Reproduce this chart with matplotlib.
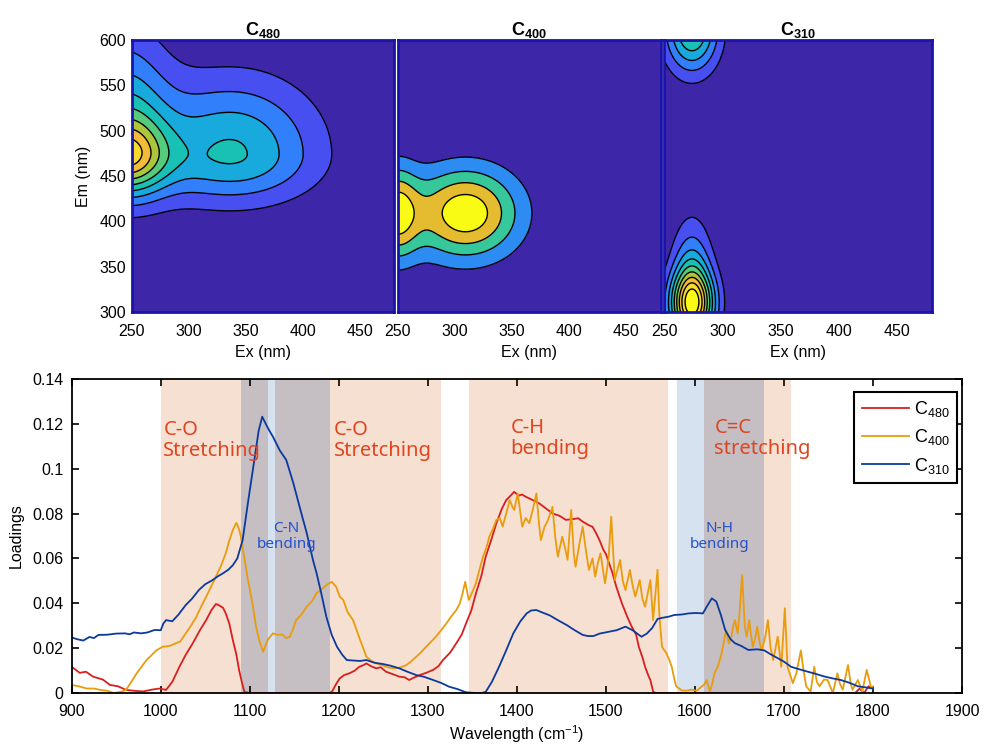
import matplotlib.pyplot as plt
import numpy as np
from matplotlib.colors import LinearSegmentedColormap

plt.rcParams['font.family'] = ['Liberation Sans', 'DejaVu Sans']
plt.rcParams['mathtext.fontset'] = 'custom'
plt.rcParams['mathtext.rm'] = 'Liberation Sans'
plt.rcParams['mathtext.it'] = 'Liberation Sans'
plt.rcParams['mathtext.bf'] = 'Liberation Sans:bold'

# MATLAB parula (R2014a), sampled anchors
PARULA = [
    (0.2422, 0.1504, 0.6603), (0.2706, 0.2147, 0.8364), (0.2813, 0.3006, 0.9414),
    (0.2699, 0.3892, 0.9906), (0.1963, 0.4847, 0.9892), (0.1687, 0.5703, 0.9359),
    (0.1248, 0.6459, 0.8883), (0.0297, 0.7082, 0.8163), (0.0433, 0.7411, 0.7394),
    (0.1717, 0.7670, 0.6554), (0.2470, 0.7918, 0.5567), (0.3909, 0.8029, 0.4354),
    (0.5616, 0.7942, 0.3045), (0.7242, 0.7698, 0.1910), (0.8634, 0.7406, 0.1596),
    (0.9728, 0.7298, 0.2394), (0.9952, 0.7893, 0.2028), (0.9676, 0.8639, 0.1643),
    (0.9628, 0.9373, 0.1265), (0.9769, 0.9839, 0.0805),
]
parula = LinearSegmentedColormap.from_list('parula', PARULA)

# --- EEM components: (amp, ex0, em0, sigma_ex, sigma_em_low, sigma_em_high)
EEM_TITLES = ['480', '400', '310']
C480_PEAKS = [(0.345, 245, 472, 24.6, 28, 27),
              (0.45, 243, 482, 27, 40, 80),
              (0.415, 337, 474, 52.4, 37, 57)]
C400_PEAKS = [(0.808, 248, 409, 14.2, 35, 35),
              (0.95, 309, 409, 33, 35, 35)]
C310_PEAKS = [(0.5, 274, 311, 14, 30, 24),
              (0.5, 274, 311, 12, 30, 52),
              (0.52, 274, 612, 16, 33, 33)]
EEM_LEVELS = [np.arange(0.1, 0.95, 0.1), np.arange(0.2, 0.85, 0.2),
              np.arange(0.1, 0.95, 0.1)]

# --- loadings spectra
RED_X = [900, 909, 916, 924, 935, 943, 952, 961, 970, 980, 990, 998, 1006,
         1013, 1021, 1028, 1036, 1044, 1051, 1057, 1062, 1066, 1070, 1073,
         1077, 1081, 1085, 1088, 1091, 1094, 1100, 1150, 1190, 1193, 1197,
         1201, 1206, 1212, 1218, 1223, 1228, 1231, 1236, 1242, 1247, 1253,
         1260, 1268, 1274, 1279, 1285, 1291, 1298, 1306, 1312, 1317, 1325,
         1332, 1338, 1343, 1349, 1354, 1360, 1365, 1371, 1377, 1383, 1388,
         1393, 1397, 1402, 1406, 1410, 1418, 1425, 1432, 1440, 1448, 1455,
         1462, 1469, 1474, 1480, 1485, 1489, 1493, 1497, 1500, 1507, 1512,
         1518, 1524, 1529, 1534, 1537, 1541, 1544, 1548, 1550, 1553, 1556,
         1780, 1785, 1790, 1795, 1800]
RED_Y = [0.0117, 0.009, 0.0095, 0.0073, 0.006, 0.0036, 0.003, 0.0014, 0.001,
         0.0007, 0.0015, 0.002, 0.0014, 0.005, 0.0117, 0.017, 0.0222, 0.028,
         0.0325, 0.037, 0.0397, 0.039, 0.038, 0.0355, 0.031, 0.0236, 0.017,
         0.0103, 0.005, 0.0005, 0, 0, 0, 0.001, 0.004, 0.0065, 0.008, 0.0088,
         0.010, 0.0117, 0.0125, 0.0132, 0.012, 0.011, 0.0115, 0.0095, 0.0085,
         0.0073, 0.007, 0.0058, 0.007, 0.008, 0.009, 0.0103, 0.012, 0.0147,
         0.018, 0.0222, 0.026, 0.0311, 0.037, 0.0444, 0.052, 0.0608, 0.068,
         0.0757, 0.082, 0.086, 0.088, 0.0897, 0.088, 0.0885, 0.0875, 0.086,
         0.0846, 0.0825, 0.0801, 0.079, 0.0772, 0.0775, 0.0779, 0.0764, 0.075,
         0.0741, 0.0713, 0.068, 0.064, 0.062, 0.054, 0.047, 0.040, 0.034,
         0.0296, 0.026, 0.0206, 0.016, 0.0117, 0.0075, 0.0058, 0.0007, 0,
         0, 0.002, 0, 0.003, 0.002]

BLUE_X = [900, 906, 913, 920, 925, 930, 940, 950, 960, 965, 970, 978, 985,
          993, 1000, 1003, 1006, 1013, 1020, 1028, 1035, 1043, 1050, 1058,
          1064, 1070, 1076, 1081, 1086, 1092, 1098, 1104, 1110, 1114, 1118,
          1122, 1126, 1134, 1141, 1149, 1156, 1164, 1171, 1175, 1180, 1186,
          1192, 1198, 1204, 1209, 1216, 1224, 1231, 1240, 1250, 1258, 1268,
          1277, 1287, 1296, 1306, 1315, 1324, 1333, 1343, 1354, 1360, 1365,
          1372, 1380, 1388, 1396, 1404, 1411, 1416, 1422, 1428, 1437, 1446,
          1456, 1465, 1474, 1480, 1486, 1493, 1503, 1512, 1522, 1530, 1540,
          1546, 1552, 1558, 1563, 1570, 1577, 1585, 1593, 1601, 1609, 1614,
          1619, 1624, 1629, 1634, 1640, 1645, 1652, 1660, 1670, 1678, 1684,
          1690, 1700, 1708, 1718, 1727, 1736, 1746, 1755, 1764, 1774, 1783,
          1792, 1800]
BLUE_Y = [0.0248, 0.024, 0.0234, 0.025, 0.0245, 0.0259, 0.026, 0.0265,
          0.0266, 0.0262, 0.027, 0.0266, 0.027, 0.0281, 0.028, 0.031, 0.0325,
          0.032, 0.035, 0.0392, 0.042, 0.046, 0.0485, 0.0503, 0.052, 0.0534,
          0.055, 0.057, 0.060, 0.0682, 0.085, 0.1009, 0.117, 0.1232, 0.120,
          0.117, 0.1143, 0.108, 0.1039, 0.0935, 0.083, 0.0713, 0.0593, 0.0535,
          0.045, 0.034, 0.026, 0.0206, 0.017, 0.0147, 0.0145, 0.0143, 0.0147,
          0.0135, 0.0129, 0.0122, 0.011, 0.0095, 0.008, 0.0072, 0.0058,
          0.0045, 0.0028, 0.0018, 0.0003, 0, 0, 0.0005, 0.005, 0.0117, 0.019,
          0.0266, 0.032, 0.0355, 0.0368, 0.037, 0.036, 0.0346, 0.0325, 0.0303,
          0.028, 0.0259, 0.0254, 0.0254, 0.0265, 0.0273, 0.028, 0.0296,
          0.028, 0.0251, 0.0265, 0.029, 0.033, 0.0335, 0.034, 0.0348, 0.035,
          0.0355, 0.0357, 0.0355, 0.039, 0.0422, 0.0408, 0.035, 0.0281, 0.024,
          0.0222, 0.021, 0.0192, 0.0195, 0.019, 0.0175, 0.0162, 0.014, 0.0117,
          0.0105, 0.0095, 0.0085, 0.0073, 0.0065, 0.0058, 0.0045, 0.003,
          0.0025, 0.002]

ORANGE_X = [900, 908, 917, 925, 932, 940, 947, 955, 961, 967, 973, 979, 984,
            990, 995, 1002, 1010, 1017, 1022, 1028, 1034, 1040, 1046, 1051,
            1056, 1062, 1068, 1073, 1077, 1081, 1085, 1088, 1090, 1094, 1098,
            1103, 1107, 1111, 1115, 1120, 1126, 1131, 1137, 1141, 1145, 1149,
            1152, 1158, 1164, 1170, 1175, 1180, 1186, 1192, 1197, 1201, 1205,
            1210, 1216, 1220, 1224, 1231, 1236, 1242, 1248, 1253, 1258, 1264,
            1270, 1276, 1281, 1287, 1292, 1298, 1304, 1309, 1315, 1321, 1326,
            1332, 1336, 1339, 1342, 1346, 1350, 1354, 1358, 1362, 1366, 1369,
            1373, 1377, 1381, 1384, 1388, 1392, 1395, 1397, 1401, 1404, 1406,
            1410, 1414, 1418, 1422, 1425, 1427, 1431, 1435, 1440, 1443, 1446,
            1451, 1454, 1457, 1461, 1464, 1466, 1470, 1474, 1478, 1481, 1485,
            1488, 1491, 1494, 1499, 1503, 1506, 1510, 1513, 1516, 1519, 1522,
            1527, 1530, 1533, 1538, 1541, 1544, 1550, 1553, 1558, 1560, 1563,
            1568, 1571, 1574, 1577, 1579, 1585, 1590, 1596, 1602, 1607, 1611,
            1613, 1617, 1620, 1622, 1626, 1630, 1633, 1635, 1638, 1641, 1643,
            1645, 1648, 1650, 1653, 1656, 1658, 1661, 1663, 1665, 1668, 1670,
            1673, 1675, 1679, 1682, 1685, 1688, 1693, 1697, 1701, 1704, 1707,
            1710, 1714, 1719, 1722, 1725, 1730, 1734, 1737, 1740, 1745, 1749,
            1755, 1760, 1763, 1766, 1772, 1775, 1777, 1783, 1788, 1793, 1798,
            1800]
ORANGE_Y = [0.0036, 0.003, 0.002, 0.002, 0.0014, 0.001, 0, 0.0005, 0.0014,
            0.005, 0.0088, 0.012, 0.0147, 0.017, 0.019, 0.0206, 0.021, 0.0222,
            0.023, 0.0266, 0.030, 0.034, 0.039, 0.0429, 0.047, 0.0519, 0.057,
            0.0623, 0.068, 0.0727, 0.0759, 0.073, 0.0697, 0.060, 0.0504, 0.040,
            0.0296, 0.023, 0.0184, 0.0236, 0.0266, 0.026, 0.026, 0.0245,
            0.0251, 0.029, 0.0325, 0.035, 0.0385, 0.041, 0.0445, 0.046, 0.0481,
            0.0496, 0.0474, 0.043, 0.0415, 0.036, 0.0325, 0.028, 0.0236,
            0.0162, 0.0145, 0.0132, 0.0125, 0.0117, 0.0112, 0.011, 0.0115,
            0.0125, 0.014, 0.0162, 0.018, 0.0206, 0.023, 0.0251, 0.028, 0.0311,
            0.034, 0.037, 0.040, 0.0444, 0.0496, 0.0415, 0.045, 0.0489, 0.055,
            0.0608, 0.065, 0.0697, 0.073, 0.0772, 0.078, 0.0742, 0.080, 0.086,
            0.083, 0.0816, 0.089, 0.080, 0.0742, 0.078, 0.0757, 0.082, 0.089,
            0.075, 0.0682, 0.074, 0.0772, 0.083, 0.070, 0.0608, 0.0697, 0.065,
            0.0594, 0.0816, 0.062, 0.0563, 0.066, 0.0742, 0.0623, 0.0549, 0.060,
            0.0519, 0.058, 0.0623, 0.0489, 0.060, 0.0786, 0.0504, 0.055, 0.0593,
            0.050, 0.0459, 0.0549, 0.048, 0.043, 0.0504, 0.042, 0.0385, 0.0504,
            0.0325, 0.0549, 0.035, 0.0206, 0.0177, 0.015, 0.0117, 0.006, 0.003,
            0.0012, 0.001, 0.0015, 0.001, 0.0027, 0.004, 0.0058, 0.0007, 0.005,
            0.0089, 0.012, 0.0177, 0.024, 0.0281, 0.022, 0.0251, 0.030, 0.0325,
            0.0266, 0.035, 0.0526, 0.030, 0.0251, 0.0325, 0.026, 0.0206, 0.025,
            0.0296, 0.022, 0.0192, 0.025, 0.0325, 0.020, 0.0147, 0.0251, 0.0117,
            0.0378, 0.0117, 0.008, 0.0044, 0.0089, 0.019, 0.010, 0.003, 0.0007,
            0.0117, 0.005, 0.003, 0.006, 0.0058, 0, 0.0088, 0.004, 0.0015,
            0.0125, 0.004, 0.0015, 0.0058, 0.0007, 0.0103, 0.0022, 0.003]

ORANGE_BANDS = [(1000, 1120), (1128, 1315), (1346, 1570), (1610, 1708)]
BLUE_BANDS = [(1090, 1190), (1580, 1678)]
BAND_LABELS = [(1003, 0.1125, 'C-O\nStretching', 'left', 'red'),
               (1194, 0.1125, 'C-O\nStretching', 'left', 'red'),
               (1393, 0.1134, 'C-H\nbending', 'left', 'red'),
               (1622, 0.1134, 'C=C\nstretching', 'left', 'red'),
               (1141, 0.0697, 'C-N\nbending', 'center', 'blue'),
               (1628, 0.0697, 'N-H\nbending', 'center', 'blue')]


def eem_surface(peaks, ex, em):
    z = np.zeros_like(ex, dtype=float)
    for amp, ex0, em0, sx, sy_lo, sy_hi in peaks:
        sy = np.where(em < em0, sy_lo, sy_hi)
        z += amp * np.exp(-(ex - ex0) ** 2 / (2 * sx ** 2)
                          - (em - em0) ** 2 / (2 * sy ** 2))
    return z


fig = plt.figure(figsize=(9.89, 7.51), dpi=100)

# --- top: three EEM component maps
ex, em = np.meshgrid(np.arange(250, 481, 1.0), np.arange(300, 601, 1.0))
boxes = [(0.1332, 0.2652), (0.4024, 0.2656), (0.6714, 0.2710)]
for i, (peaks, (left, width)) in enumerate(zip(
        [C480_PEAKS, C400_PEAKS, C310_PEAKS], boxes)):
    ax = fig.add_axes([left, 0.5846, width, 0.3622])
    z = eem_surface(peaks, ex, em)
    lev = EEM_LEVELS[i]
    n = len(lev) + 1
    cols = [parula(k / (n - 1)) for k in range(n)]
    ax.contourf(ex, em, z, levels=np.concatenate(([-1], lev, [5])),
                colors=cols)
    ax.contour(ex, em, z, levels=lev, colors='k', linewidths=1.0)
    ax.set_xlim(250, 480)
    ax.set_ylim(300, 600)
    ax.set_xticks([250, 300, 350, 400, 450])
    ax.set_yticks([300, 350, 400, 450, 500, 550, 600])
    ax.tick_params(axis='x', length=0, labelsize=11.5, pad=9)
    ax.tick_params(axis='y', length=0, labelsize=11.5, pad=4)
    if i > 0:
        ax.set_yticklabels([])
    else:
        ax.set_ylabel('Em (nm)', fontsize=11.5, labelpad=6)
    ax.set_xlabel('Ex (nm)', fontsize=11.5, labelpad=4)
    ax.set_title(r'$\mathbf{C}_{\mathbf{%s}}$' % EEM_TITLES[i],
                 fontsize=13, pad=3)
    for sp in ax.spines.values():
        sp.set_color('#1a14a8')
        sp.set_linewidth(2.0)

# --- bottom: loadings with band assignments
ax = fig.add_axes([0.0725, 0.0772, 0.9002, 0.4181])
for a, b in ORANGE_BANDS:
    ax.axvspan(a, b, color=(210 / 255, 100 / 255, 30 / 255), alpha=0.2,
               lw=0, zorder=0)
for a, b in BLUE_BANDS:
    ax.axvspan(a, b, color=(55 / 255, 110 / 255, 180 / 255), alpha=0.2,
               lw=0, zorder=0)
# overlapping assignments look a shade darker
for a, b in ORANGE_BANDS:
    for c, d in BLUE_BANDS:
        lo, hi = max(a, c), min(b, d)
        if lo < hi:
            ax.axvspan(lo, hi, color=(90 / 255, 70 / 255, 90 / 255),
                       alpha=0.08, lw=0, zorder=0)

ax.plot(RED_X, RED_Y, color='#d91e1e', lw=1.3, label=r'C$_{480}$')
ax.plot(ORANGE_X, ORANGE_Y, color='#e99c0c', lw=1.3, label=r'C$_{400}$')
ax.plot(BLUE_X, BLUE_Y, color='#0b3a9e', lw=1.3, label=r'C$_{310}$')

for x, y, s, ha, kind in BAND_LABELS:
    if kind == 'red':
        ax.text(x, y, s, ha=ha, va='center', color='#e0451f', fontsize=14.5,
                family=['Noto Sans', 'DejaVu Sans'], linespacing=1.05)
    else:
        ax.text(x, y, s, ha=ha, va='center', color='#2352cc', fontsize=11,
                family=['Noto Sans', 'DejaVu Sans'], linespacing=1.05,
                multialignment='center')

ax.set_xlim(900, 1900)
ax.set_ylim(0, 0.14)
ax.set_xticks(range(900, 1901, 100))
yt = [0, 0.02, 0.04, 0.06, 0.08, 0.1, 0.12, 0.14]
ax.set_yticks(yt)
ax.set_yticklabels(['%g' % v for v in yt])
ax.tick_params(direction='in', top=True, right=True, length=5, width=1.2,
               labelsize=11.5)
ax.tick_params(axis='x', pad=8)
ax.tick_params(axis='y', pad=6)
for sp in ax.spines.values():
    sp.set_linewidth(1.3)
ax.set_xlabel(r'Wavelength (cm$^{-1}$)', fontsize=11.5, labelpad=3)
ax.set_ylabel('Loadings', fontsize=11.5, labelpad=6)
leg = ax.legend(loc='upper right', bbox_to_anchor=(0.9944, 0.9586),
                fontsize=13, frameon=True, fancybox=False, framealpha=1,
                edgecolor='k', handlelength=2.6, handletextpad=0.3,
                borderpad=0.4, labelspacing=0.45, borderaxespad=0)
leg.get_frame().set_linewidth(1.5)

fig.savefig('out.png', dpi=100)
